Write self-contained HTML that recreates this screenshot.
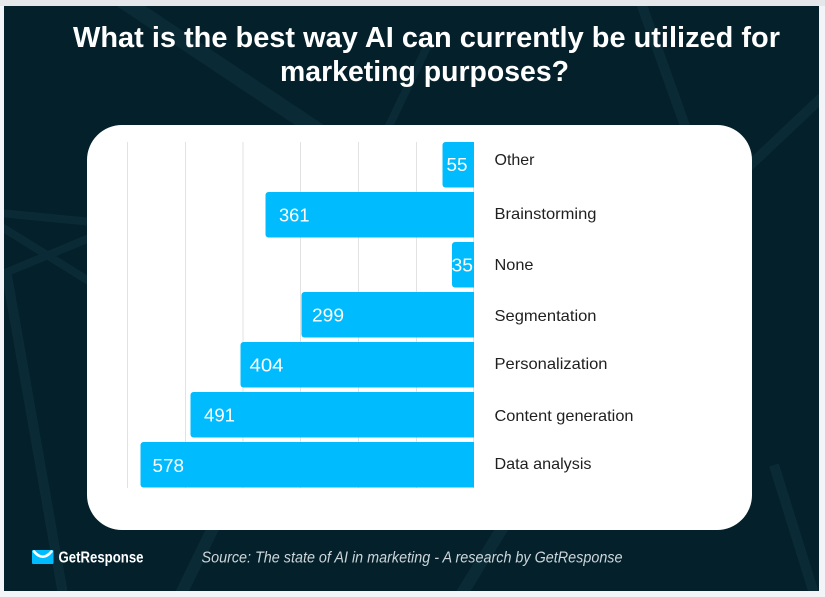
<!DOCTYPE html>
<html>
<head>
<meta charset="utf-8">
<style>
  html, body { margin: 0; padding: 0; background: #f2f4f8; }
  body { width: 825px; height: 597px; overflow: hidden; }
  svg { display: block; }
  text { font-family: "Liberation Sans", Arial, sans-serif; }
</style>
</head>
<body>
<svg width="825" height="597" viewBox="0 0 825 597" xmlns="http://www.w3.org/2000/svg">
  <defs>
    <clipPath id="darkclip">
      <rect x="4" y="6" width="815" height="585"/>
    </clipPath>
  </defs>

  <!-- outer light frame -->
  <rect x="0" y="0" width="825" height="597" fill="#f2f4f8"/>
  <rect x="0" y="0" width="825" height="6" fill="#e5e7ea"/>

  <!-- dark background -->
  <rect x="4" y="6" width="815" height="585" fill="#03202b"/>

  <!-- faint background lines -->
  <g clip-path="url(#darkclip)" stroke="#0a2b36" stroke-linecap="butt" fill="none">
    <line x1="122" y1="0" x2="350" y2="152" stroke-width="16"/>
    <line x1="640" y1="0" x2="690" y2="140" stroke-width="10"/>
    <line x1="835" y1="85" x2="745" y2="170" stroke-width="10"/>
    <line x1="388" y1="128" x2="428" y2="45" stroke-width="8"/>
    <line x1="0" y1="213" x2="92" y2="222" stroke-width="8"/>
    <line x1="0" y1="226" x2="92" y2="283" stroke-width="8"/>
    <line x1="0" y1="275" x2="92" y2="237" stroke-width="8"/>
    <line x1="6" y1="270" x2="64" y2="600" stroke-width="10"/>
    <line x1="216" y1="522" x2="178" y2="600" stroke-width="12"/>
    <line x1="506" y1="522" x2="458" y2="600" stroke-width="12"/>
    <line x1="774" y1="465" x2="816" y2="600" stroke-width="10"/>
  </g>

  <!-- title -->
  <text x="426.5" y="47" text-anchor="middle" font-size="29" font-weight="bold" fill="#ffffff" textLength="707" lengthAdjust="spacingAndGlyphs">What is the best way AI can currently be utilized for</text>
  <text x="424.5" y="81" text-anchor="middle" font-size="29" font-weight="bold" fill="#ffffff" textLength="289" lengthAdjust="spacingAndGlyphs">marketing purposes?</text>

  <!-- white card -->
  <rect x="87" y="125" width="665" height="405" rx="35" ry="35" fill="#ffffff"/>

  <!-- grid lines -->
  <g stroke="#e2e2e2" stroke-width="1">
    <line x1="127.5" y1="142" x2="127.5" y2="488"/>
    <line x1="185.5" y1="142" x2="185.5" y2="488"/>
    <line x1="243" y1="142" x2="243" y2="488"/>
    <line x1="300.5" y1="142" x2="300.5" y2="488"/>
    <line x1="358.5" y1="142" x2="358.5" y2="488"/>
    <line x1="416.5" y1="142" x2="416.5" y2="488"/>
    <line x1="473.5" y1="142" x2="473.5" y2="488"/>
  </g>

  <!-- bars -->
  <g fill="#00bcff">
    <path d="M474 142 H445.5 a3 3 0 0 0 -3 3 V184.5 a3 3 0 0 0 3 3 H474 Z"/>
    <path d="M474 192 H268.5 a3 3 0 0 0 -3 3 V234.5 a3 3 0 0 0 3 3 H474 Z"/>
    <path d="M474 242 H455 a3 3 0 0 0 -3 3 V284.5 a3 3 0 0 0 3 3 H474 Z"/>
    <path d="M474 292 H304.5 a3 3 0 0 0 -3 3 V334.5 a3 3 0 0 0 3 3 H474 Z"/>
    <path d="M474 342 H243.5 a3 3 0 0 0 -3 3 V384.5 a3 3 0 0 0 3 3 H474 Z"/>
    <path d="M474 392 H193.5 a3 3 0 0 0 -3 3 V434.5 a3 3 0 0 0 3 3 H474 Z"/>
    <path d="M474 442 H143.5 a3 3 0 0 0 -3 3 V484.5 a3 3 0 0 0 3 3 H474 Z"/>
  </g>

  <!-- value labels -->
  <g fill="#ffffff" font-size="18">
    <text x="446.5" y="171" textLength="21" lengthAdjust="spacingAndGlyphs">55</text>
    <text x="279" y="221.5" textLength="30.5" lengthAdjust="spacingAndGlyphs">361</text>
    <text x="451.5" y="271.5" textLength="21.5" lengthAdjust="spacingAndGlyphs">35</text>
    <text x="312" y="321.5" textLength="32" lengthAdjust="spacingAndGlyphs">299</text>
    <text x="249.5" y="371.5" textLength="34" lengthAdjust="spacingAndGlyphs">404</text>
    <text x="204" y="421.5" textLength="31" lengthAdjust="spacingAndGlyphs">491</text>
    <text x="152.5" y="472" textLength="31.5" lengthAdjust="spacingAndGlyphs">578</text>
  </g>

  <!-- category labels -->
  <g fill="#1f1f1f" font-size="16">
    <text x="494.5" y="165" textLength="40" lengthAdjust="spacingAndGlyphs">Other</text>
    <text x="494.5" y="219" textLength="102" lengthAdjust="spacingAndGlyphs">Brainstorming</text>
    <text x="494.5" y="270" textLength="39" lengthAdjust="spacingAndGlyphs">None</text>
    <text x="494.5" y="321" textLength="102" lengthAdjust="spacingAndGlyphs">Segmentation</text>
    <text x="494.5" y="369" textLength="113" lengthAdjust="spacingAndGlyphs">Personalization</text>
    <text x="494.5" y="421" textLength="139" lengthAdjust="spacingAndGlyphs">Content generation</text>
    <text x="494.5" y="469" textLength="97" lengthAdjust="spacingAndGlyphs">Data analysis</text>
  </g>

  <!-- footer logo -->
  <rect x="32" y="550" width="21.5" height="14" rx="1" fill="#00bcff"/>
  <path d="M34 551.5 Q42.75 562 51.5 551.5" stroke="#ffffff" stroke-width="2.6" fill="none" stroke-linecap="round"/>
  <text x="58.5" y="562.5" font-size="15.5" font-weight="bold" fill="#ffffff" textLength="85" lengthAdjust="spacingAndGlyphs">GetResponse</text>

  <!-- source -->
  <text x="201.5" y="562.5" font-size="15.5" font-style="italic" fill="#cdd6da" textLength="421" lengthAdjust="spacingAndGlyphs">Source: The state of AI in marketing - A research by GetResponse</text>
</svg>
</body>
</html>
